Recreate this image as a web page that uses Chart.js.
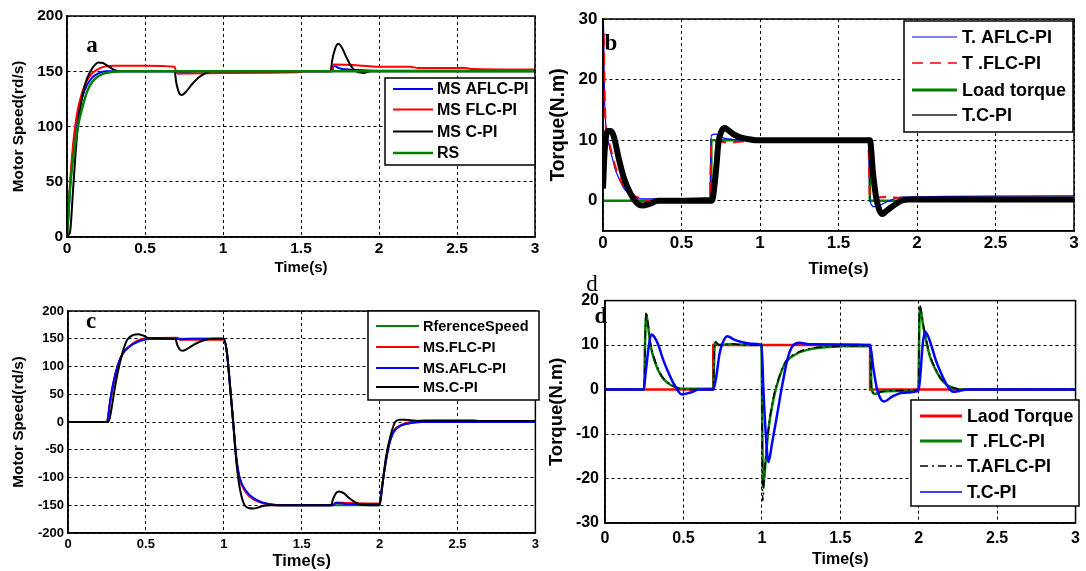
<!DOCTYPE html>
<html>
<head>
<meta charset="utf-8">
<script src="https://cdn.jsdelivr.net/npm/chart.js@4.4.1/dist/chart.umd.min.js"></script>
<style>
    html, body { margin: 0; padding: 0; background: #fff; }
    #page { position: relative; width: 1086px; height: 571px; overflow: hidden; background: #fff; }
    #page canvas { position: absolute; }
    .tag { position: absolute; font-family: "Liberation Serif", "Times New Roman", serif; font-weight: bold;
           font-size: 23px; line-height: 1; transform: translate(-50%, -50%); color: #000; }
</style>
</head>
<body>
<div id="page">
    <canvas id="chartA" width="543" height="285" style="left:0px;top:0px"></canvas>
    <canvas id="chartB" width="543" height="285" style="left:543px;top:0px"></canvas>
    <canvas id="chartC" width="543" height="286" style="left:0px;top:285px"></canvas>
    <canvas id="chartD" width="543" height="286" style="left:543px;top:285px"></canvas>
    <span class="tag" style="left:92px;top:44px">a</span>
    <span class="tag" style="left:611px;top:42px">b</span>
    <span class="tag" style="left:91px;top:320px">c</span>
    <span class="tag" style="left:601px;top:315px">d</span>
    <span class="tag" style="left:592px;top:283px;font-weight:normal">d</span>
</div>
<script>
// shared ticks
var timeTicks = [0, 0.5, 1, 1.5, 2, 2.5, 3];
var speedTicksA = [0, 50, 100, 150, 200];
var torqueTicksB = [0, 10, 20, 30];
var speedTicksC = [-200, -150, -100, -50, 0, 50, 100, 150, 200];
var torqueTicksD = [-30, -20, -10, 0, 10, 20];

var labelsA = ['MS AFLC-PI', 'MS FLC-PI', 'MS C-PI', 'RS'];
var labelsB = ['T. AFLC-PI', 'T .FLC-PI', 'Load torque', 'T.C-PI'];
var labelsC = ['RferenceSpeed', 'MS.FLC-PI', 'MS.AFLC-PI', 'MS.C-PI'];
var labelsD = ['Laod Torque', 'T .FLC-PI', 'T.AFLC-PI', 'T.C-PI'];

// (a) motor speed, constant reference
var aTimeAFLC = [0, 0.01, 0.02, 0.04, 0.06, 0.08, 0.1, 0.13, 0.16, 0.2, 0.25, 0.3, 0.7, 0.71, 0.75, 0.8, 0.85, 1.7, 1.71, 1.74, 1.8, 1.9, 2.0, 3];
var aSpeedAFLC = [0, 20, 45, 80, 103, 118, 128, 138, 144, 148, 150, 150, 150, 148, 148.5, 149.5, 150, 150, 155, 153, 151.5, 151, 150.5, 150.5];
var aTimeFLC = [0, 0.01, 0.02, 0.04, 0.06, 0.08, 0.1, 0.13, 0.16, 0.2, 0.25, 0.3, 0.5, 0.69, 0.7, 0.72, 1.0, 1.48, 1.5, 1.7, 1.71, 1.9, 2.0, 2.2, 2.25, 2.55, 2.6, 3];
var aSpeedFLC = [0, 25, 50, 85, 108, 122, 132, 142, 148, 152, 154.5, 155, 155, 154, 149, 148, 148.5, 149, 150, 150, 156, 155, 154, 154, 153, 153, 152, 151.5];
var aTimeCPI = [0, 0.01, 0.02, 0.04, 0.06, 0.08, 0.1, 0.12, 0.15, 0.18, 0.2, 0.23, 0.27, 0.3, 0.33, 0.69, 0.7, 0.72, 0.735, 0.76, 0.8, 0.85, 0.9, 0.93, 1.69, 1.7, 1.72, 1.74, 1.76, 1.79, 1.82, 1.85, 1.9, 1.95, 3];
var aSpeedCPI = [0, 2, 5, 45, 85, 112, 128, 140, 150, 156, 158, 157.5, 154, 151.5, 150, 150, 140, 130, 128.5, 131, 138, 145, 149, 150, 150, 160, 171, 175, 172, 163, 155, 150, 148.5, 150, 150];
var aTimeRS = [0, 0.01, 0.02, 0.03, 0.05, 0.07, 0.1, 0.13, 0.16, 0.2, 0.25, 0.3, 0.35, 3];
var aSpeedRS = [0, 25, 45, 60, 82, 100, 118, 132, 140, 145.5, 148.5, 149.5, 150, 150];

// (b) torque, constant reference
var bTimeAFLC = [0, 0.003, 0.006, 0.01, 0.02, 0.04, 0.06, 0.08, 0.1, 0.13, 0.16, 0.2, 0.25, 0.3, 0.68, 0.69, 0.72, 0.75, 0.8, 0.9, 1.69, 1.7, 1.73, 1.76, 1.8, 1.9, 3];
var bTorqueAFLC = [2, 30, 24, 17, 12, 9, 7, 5, 3.8, 2.2, 1.2, 0.5, 0.3, 0.3, 0.5, 10.8, 11, 10.5, 10.2, 10, 10, 0, -1, -0.8, -0.3, 0.6, 0.8];
var bTimeFLC = [0, 0.004, 0.008, 0.012, 0.02, 0.04, 0.06, 0.08, 0.1, 0.13, 0.16, 0.2, 0.25, 0.3, 0.68, 0.69, 0.73, 0.8, 0.9, 1.0, 1.69, 1.7, 1.8, 1.9, 3];
var bTorqueFLC = [5, 28, 22, 16, 12, 9.5, 7.5, 5.5, 4, 2.5, 1.5, 0.8, 0.3, 0, 0, 9.5, 9.8, 9.6, 9.8, 10, 10, 0.5, 0.6, 0.5, 0.5];
var bTimeLoad = [0, 0.69, 0.69, 1.7, 1.7, 3];
var bTorqueLoad = [0, 0, 10, 10, 0, 0];
var bTimeCPI = [0, 0.01, 0.03, 0.05, 0.07, 0.1, 0.13, 0.16, 0.19, 0.22, 0.25, 0.3, 0.35, 0.4, 0.69, 0.7, 0.72, 0.735, 0.755, 0.775, 0.8, 0.83, 0.87, 0.92, 0.97, 1.7, 1.72, 1.74, 1.76, 1.78, 1.8, 1.84, 1.9, 1.95, 3];
var bTorqueCPI = [2, 8, 11.5, 11.5, 10.5, 7, 4, 2, 0.5, -0.5, -0.8, -0.5, 0, 0, 0, 0.5, 5, 9.5, 11.5, 12, 11.6, 11, 10.5, 10.2, 10, 10, 4.5, 0.5, -1.5, -2.2, -1.8, -1, 0, 0.2, 0.2];

// (c) motor speed, reversing reference
var cTimeRef = [0, 0.25, 0.27, 0.29, 0.32, 0.35, 0.4, 0.45, 0.5, 0.55, 1.0, 1.02, 1.04, 1.06, 1.08, 1.1, 1.14, 1.2, 1.26, 1.32, 1.4, 2.0, 2.01, 2.03, 2.06, 2.09, 2.14, 2.2, 2.27, 3];
var cSpeedRef = [0, 0, 35, 65, 100, 122, 137, 145, 149, 150, 150, 125, 65, 0, -65, -100, -125, -140, -146, -149, -150, -150, -130, -90, -42, -18, -6, -2, 0, 0];
var cTimeFLC = [0, 0.25, 0.27, 0.29, 0.32, 0.35, 0.4, 0.45, 0.5, 0.7, 0.72, 0.95, 1.0, 1.02, 1.04, 1.06, 1.08, 1.1, 1.14, 1.2, 1.26, 1.32, 1.4, 1.7, 1.72, 1.8, 2.0, 2.01, 2.03, 2.06, 2.09, 2.14, 2.2, 2.3, 2.6, 2.65, 3];
var cSpeedFLC = [0, 0, 35, 68, 102, 123, 138, 147, 151, 152, 148, 148, 148, 124, 64, 0, -66, -101, -126, -141, -147, -150, -150, -150, -145, -146, -147, -128, -88, -40, -16, -5, 0, 3, 3, 1.5, 1.5];
var cTimeAFLC = [0, 0.25, 0.27, 0.29, 0.32, 0.35, 0.4, 0.45, 0.5, 0.55, 0.7, 0.72, 0.8, 1.0, 1.02, 1.04, 1.06, 1.08, 1.1, 1.14, 1.2, 1.26, 1.32, 1.4, 1.7, 1.72, 1.8, 2.0, 2.01, 2.03, 2.06, 2.09, 2.14, 2.2, 2.27, 3];
var cSpeedAFLC = [0, 0, 38, 70, 103, 123, 137, 145, 149, 150, 150, 149, 150, 150, 126, 66, 2, -62, -98, -123, -139, -146, -149, -150, -150, -146, -148, -148, -128, -88, -42, -18, -6, -2, 0, 0];
var cTimeCPI = [0, 0.26, 0.28, 0.3, 0.32, 0.35, 0.38, 0.42, 0.45, 0.48, 0.52, 0.69, 0.7, 0.72, 0.735, 0.76, 0.8, 0.85, 0.9, 0.93, 1.0, 1.02, 1.04, 1.06, 1.08, 1.1, 1.13, 1.16, 1.19, 1.22, 1.26, 1.3, 1.69, 1.7, 1.72, 1.74, 1.77, 1.8, 1.84, 1.88, 2.0, 2.02, 2.04, 2.07, 2.1, 2.13, 2.16, 2.2, 2.25, 3];
var cSpeedCPI = [0, 0, 25, 60, 90, 125, 148, 157, 158, 156, 151, 150, 140, 130, 128.5, 131, 138, 145, 149, 150, 150, 125, 65, 0, -70, -115, -148, -155, -156, -154, -151, -150, -150, -140, -128, -125, -128, -136, -144, -149, -150, -110, -65, -25, 0, 4, 4, 3, 2, 2];

// (d) torque, reversing reference
var dTimeLoad = [0, 0.69, 0.69, 1.69, 1.69, 3];
var dTorqueLoad = [0, 0, 10, 10, 0, 0];
var dTimeFLC = [0, 0.25, 0.255, 0.262, 0.272, 0.29, 0.32, 0.36, 0.4, 0.45, 0.5, 0.69, 0.7, 0.73, 0.8, 0.9, 0.998, 1.003, 1.008, 1.015, 1.022, 1.042, 1.075, 1.108, 1.15, 1.22, 1.3, 1.4, 1.69, 1.7, 1.72, 1.76, 1.85, 1.998, 2.003, 2.008, 2.03, 2.07, 2.11, 2.14, 2.18, 2.22, 2.27, 3];
var dTorqueFLC = [0, 0, 10, 17, 15, 10, 6, 3, 1.5, 0.5, 0.2, 0.2, 10.5, 10, 10.2, 10, 10, -10, -22, -20, -17, -9, -2, 2.4, 6, 8, 9, 9.5, 9.8, 0, -1, -0.5, -0.3, -0.2, 12, 18.5, 14, 7.6, 4.3, 2.5, 1, 0.4, 0, 0];
var dTimeAFLC = [0, 0.25, 0.255, 0.262, 0.272, 0.29, 0.32, 0.36, 0.4, 0.45, 0.5, 0.69, 0.7, 0.73, 0.8, 0.9, 0.998, 1.002, 1.006, 1.015, 1.025, 1.045, 1.075, 1.11, 1.15, 1.22, 1.3, 1.4, 1.69, 1.7, 1.72, 1.76, 1.85, 1.998, 2.002, 2.006, 2.03, 2.07, 2.11, 2.14, 2.18, 2.22, 2.27, 3];
var dTorqueAFLC = [0, 0, 9, 17.5, 15.5, 10.5, 6.5, 3.2, 1.6, 0.6, 0, 0, 10.8, 10, 10.3, 10, 10, -12, -25, -20, -15, -8, -1.5, 2.8, 6.2, 8.2, 9.2, 9.6, 9.8, 0, -0.8, -0.5, -0.2, 0, 12, 19, 14.5, 8, 4.5, 2.6, 1.1, 0.4, 0, 0];
var dTimeCPI = [0, 0.245, 0.26, 0.28, 0.295, 0.315, 0.34, 0.37, 0.4, 0.44, 0.49, 0.55, 0.6, 0.69, 0.71, 0.73, 0.75, 0.78, 0.82, 0.87, 0.93, 0.998, 1.01, 1.025, 1.042, 1.064, 1.097, 1.13, 1.163, 1.196, 1.24, 1.3, 1.69, 1.71, 1.735, 1.78, 1.83, 1.9, 1.998, 2.01, 2.025, 2.04, 2.06, 2.085, 2.11, 2.14, 2.18, 2.22, 2.26, 2.31, 3];
var dTorqueCPI = [0, 0, 4, 10, 12.4, 11.8, 10, 6.8, 4.2, 1.2, -1.1, -0.6, 0, 0, 3, 8, 10.5, 12, 11.3, 10.7, 10.3, 10, 0, -10, -16.3, -12.3, -5.7, 1, 6.8, 9.8, 10.5, 10.2, 10, 5, 0, -2.7, -1.6, -0.7, -0.3, 3, 10, 13, 12, 9.4, 6.5, 3.9, 1, -0.5, -0.3, 0, 0];

var FONT = '"Liberation Sans", Arial, sans-serif';
var BLUE = '#0000ff', RED = '#ff0000', BLACK = '#000000', GREEN = '#008000';

function toPoints(times, values) {
    return times.map(function (t, i) { return {x: t, y: values[i]}; });
}

function boldFont(size) {
    return {family: FONT, size: size, weight: 'bold'};
}

// frame + legend drawn over the lines
function makeDecor(p) {
    return {
        id: 'decor' + p.id,
        afterDatasetsDraw: function (chart) {
            var ctx = chart.ctx;
            var area = chart.chartArea;
            var lg = p.legend;
            ctx.save();
            ctx.setLineDash([]);
            ctx.strokeStyle = '#000';
            ctx.lineWidth = 1.5;
            ctx.strokeRect(area.left, area.top, area.right - area.left, area.bottom - area.top);

            var bx = lg.x - p.left, by = lg.y - p.top;
            ctx.fillStyle = '#fff';
            ctx.fillRect(bx, by, lg.w, lg.h);
            ctx.strokeStyle = '#000';
            ctx.strokeRect(bx, by, lg.w, lg.h);

            ctx.font = 'bold ' + lg.size + 'px ' + FONT;
            ctx.textBaseline = 'middle';
            ctx.textAlign = 'left';
            p.series.forEach(function (s, i) {
                var y = lg.rows[i] - p.top;
                ctx.strokeStyle = s.legendColor || s.color;
                ctx.lineWidth = s.legendWidth || s.width;
                ctx.setLineDash(s.dash || []);
                ctx.beginPath();
                ctx.moveTo(lg.lineFrom - p.left, y);
                ctx.lineTo(lg.lineTo - p.left, y);
                ctx.stroke();
                ctx.setLineDash([]);
                ctx.fillStyle = '#000';
                ctx.fillText(s.label, lg.textX - p.left, y + 1);
            });
            ctx.restore();
        }
    };
}

function buildPanel(p) {
    var canvas = document.getElementById(p.id);
    var datasets = p.series.map(function (s) {
        return {
            label: s.label,
            data: toPoints(s.times, s.values),
            borderColor: s.color,
            borderWidth: s.width,
            borderDash: s.dash || [],
            order: s.order,
            pointRadius: 0,
            fill: false,
            tension: s.step ? 0 : 0.4,
            cubicInterpolationMode: s.step ? 'default' : 'monotone'
        };
    });

    new Chart(canvas.getContext('2d'), {
        type: 'line',
        data: {datasets: datasets},
        options: {
            responsive: false,
            animation: false,
            devicePixelRatio: 1,
            layout: {
                padding: {left: 0, bottom: 0, top: p.plot.t - p.top, right: p.left + p.width - p.plot.r}
            },
            plugins: {legend: {display: false}, tooltip: {enabled: false}},
            scales: {
                x: {
                    type: 'linear', min: 0, max: 3,
                    afterBuildTicks: function (scale) {
                        scale.ticks = timeTicks.map(function (v) { return {value: v}; });
                    },
                    afterFit: function (scale) { scale.height = p.top + p.height - p.plot.b; },
                    grid: {color: '#000', lineWidth: 1, drawTicks: false},
                    border: {display: true, color: '#000', width: 1.5, dash: [3, 3]},
                    ticks: {
                        color: '#000', font: boldFont(p.tickSize), padding: p.xTickPad,
                        maxRotation: 0, autoSkip: false,
                        callback: function (v) { return String(v); }
                    },
                    title: {
                        display: true, text: 'Time(s)', color: '#000',
                        font: boldFont(p.xTitleSize), padding: {top: 0, bottom: p.xTitlePad}
                    }
                },
                y: {
                    type: 'linear', min: p.yMin, max: p.yMax,
                    afterBuildTicks: function (scale) {
                        scale.ticks = p.yTicks.map(function (v) { return {value: v}; });
                    },
                    afterFit: function (scale) { scale.width = p.plot.l - p.left; },
                    grid: {color: '#000', lineWidth: 1, drawTicks: false},
                    border: {display: true, color: '#000', width: 1.5, dash: [3, 3]},
                    ticks: {
                        color: '#000', font: boldFont(p.tickSize), padding: p.yTickPad,
                        autoSkip: false,
                        callback: function (v) { return String(v); }
                    },
                    title: {
                        display: true, text: p.yTitle, color: '#000',
                        font: boldFont(p.yTitleSize), padding: {top: p.yTitlePad, bottom: 0}
                    }
                }
            }
        },
        plugins: [makeDecor(p)]
    });
}

var panelA = {
    id: 'chartA', left: 0, top: 0, width: 543, height: 285,
    plot: {l: 67, t: 16, r: 535, b: 237},
    yMin: 0, yMax: 200, yTicks: speedTicksA, yTitle: 'Motor Speed(rd/s)',
    tickSize: 15.5, xTickPad: 2, yTickPad: 4,
    xTitleSize: 15, xTitlePad: 8, yTitleSize: 15.4, yTitlePad: 10,
    legend: {x: 385, y: 78, w: 150, h: 87, rows: [89, 109.5, 131.5, 153], lineFrom: 393, lineTo: 433, textX: 437, size: 16},
    series: [
        {label: labelsA[0], times: aTimeAFLC, values: aSpeedAFLC, color: BLUE, width: 2, order: 4},
        {label: labelsA[1], times: aTimeFLC, values: aSpeedFLC, color: RED, width: 2, order: 3},
        {label: labelsA[2], times: aTimeCPI, values: aSpeedCPI, color: BLACK, width: 2, order: 2},
        {label: labelsA[3], times: aTimeRS, values: aSpeedRS, color: GREEN, width: 2.5, order: 1}
    ]
};

var panelB = {
    id: 'chartB', left: 543, top: 0, width: 543, height: 285,
    plot: {l: 603, t: 19, r: 1074, b: 231},
    yMin: -5, yMax: 30, yTicks: torqueTicksB, yTitle: 'Torque(N.m)',
    tickSize: 17, xTickPad: 2, yTickPad: 5.5,
    xTitleSize: 17, xTitlePad: 5.5, yTitleSize: 19.3, yTitlePad: 4.4,
    legend: {x: 904, y: 21, w: 169, h: 111, rows: [37, 63, 90, 115], lineFrom: 912, lineTo: 957, textX: 962, size: 18},
    series: [
        {label: labelsB[0], times: bTimeAFLC, values: bTorqueAFLC, color: BLUE, width: 1.2, order: 3},
        {label: labelsB[1], times: bTimeFLC, values: bTorqueFLC, color: RED, width: 2, dash: [11, 7], order: 2, legendWidth: 1.5},
        {label: labelsB[2], times: bTimeLoad, values: bTorqueLoad, color: GREEN, width: 2.5, order: 4, step: true, legendWidth: 3},
        {label: labelsB[3], times: bTimeCPI, values: bTorqueCPI, color: BLACK, width: 6, order: 1, legendColor: '#555', legendWidth: 2}
    ]
};

var panelC = {
    id: 'chartC', left: 0, top: 285, width: 543, height: 286,
    plot: {l: 68, t: 311, r: 539, b: 533},
    yMin: -200, yMax: 200, yTicks: speedTicksC, yTitle: 'Motor Speed(rd/s)',
    tickSize: 13, xTickPad: 4, yTickPad: 4,
    xTitleSize: 16.5, xTitlePad: 0, yTitleSize: 15.4, yTitlePad: 10,
    legend: {x: 368, y: 311, w: 171, h: 89, rows: [326, 347, 368, 387], lineFrom: 376, lineTo: 419, textX: 423, size: 14.5},
    series: [
        {label: labelsC[0], times: cTimeRef, values: cSpeedRef, color: GREEN, width: 2, order: 4},
        {label: labelsC[1], times: cTimeFLC, values: cSpeedFLC, color: RED, width: 2, order: 3},
        {label: labelsC[2], times: cTimeAFLC, values: cSpeedAFLC, color: BLUE, width: 2, order: 2},
        {label: labelsC[3], times: cTimeCPI, values: cSpeedCPI, color: BLACK, width: 2, order: 1}
    ]
};

var panelD = {
    id: 'chartD', left: 543, top: 285, width: 543, height: 286,
    plot: {l: 605, t: 297, r: 1081, b: 523},
    yMin: -30, yMax: 20, yTicks: torqueTicksD, yTitle: 'Torque(N.m)',
    tickSize: 16, xTickPad: 6, yTickPad: 6,
    xTitleSize: 16, xTitlePad: 1.5, yTitleSize: 18.5, yTitlePad: 3,
    legend: {x: 911, y: 400, w: 168, h: 106, rows: [416, 441, 466, 492], lineFrom: 920, lineTo: 962, textX: 967, size: 17.8},
    series: [
        {label: labelsD[0], times: dTimeLoad, values: dTorqueLoad, color: RED, width: 2.5, order: 4, step: true, legendWidth: 3},
        {label: labelsD[1], times: dTimeFLC, values: dTorqueFLC, color: GREEN, width: 2.5, order: 3, legendWidth: 3},
        {label: labelsD[2], times: dTimeAFLC, values: dTorqueAFLC, color: BLACK, width: 1.5, dash: [8, 4, 2, 4], order: 2},
        {label: labelsD[3], times: dTimeCPI, values: dTorqueCPI, color: BLUE, width: 2.5, order: 1, legendWidth: 1.5}
    ]
};

[panelA, panelB, panelC, panelD].forEach(buildPanel);
</script>
</body>
</html>
